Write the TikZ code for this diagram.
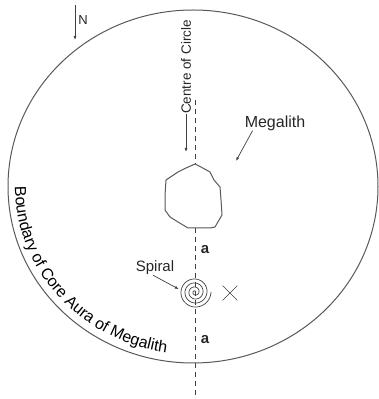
\documentclass[tikz,border=0pt]{standalone}
\usepackage{fontspec}
\setmainfont{Liberation Sans}
\usetikzlibrary{arrows.meta,decorations.text,shapes.misc}
\begin{document}
\begin{tikzpicture}[x=1pt,y=1pt,
  lbl/.style={font=\fontsize{15}{17}\selectfont,inner sep=0pt,text=black!85},
  pointer/.style={-{Latex[length=4pt,width=3pt]},line width=0.7pt,black!75},
  axisline/.style={dash pattern=on 5pt off 4pt,line width=1pt,black!75},
  outline/.style={line width=1pt,black!65}
]
\useasboundingbox (0,0) rectangle (379,399);
\draw[outline] (193,212.5) ellipse[x radius=185pt,y radius=176.5pt];
\path[decorate,decoration={text along path,text align=left,raise=1pt,
  text={|\fontsize{16}{18}\selectfont|Boundary of Core Aura of Megalith}}]
  (14,212.5) arc[start angle=180,end angle=268,x radius=179pt,y radius=169pt];
\node[lbl,font=\fontsize{13}{15}\selectfont] (north) at (83,379) {N};
\coordinate (ntop) at (75,394);
\coordinate (nbot) at (75,359);
\draw[pointer] (ntop) -- (nbot);
\draw[outline] (195,235) coordinate (mtop) -- (201,232) -- (210,227) -- (214,219) -- (220,212)
  -- (221,199) -- (222,184) -- (215,172) -- (210,171) -- (195,171) coordinate (mbot) -- (188,171)
  -- (178,177) -- (170,182) -- (165,189) -- (165,204) -- (166,219) -- (172,223) -- (178,227)
  -- (186,231) -- cycle;
\coordinate (dtop) at (195,299);
\coordinate (dbot) at (195,1);
\draw[axisline] (dtop) -- (mtop);
\draw[axisline] (mbot) -- (dbot);
\node[lbl,rotate=90,font=\fontsize{13.5}{15}\selectfont] (centre) at (186,332) {Centre of Circle};
\coordinate (cend) at (185,247);
\draw[pointer] (centre.west) -- (centre.west |- cend);
\node[lbl,font=\fontsize{16}{18}\selectfont] (megalith) at (275,276) {Megalith};
\coordinate (mpt) at (236,238);
\draw[pointer] ([xshift=8pt]megalith.south west) -- (mpt);
\node[minimum size=32pt,inner sep=0pt] (spiral) at (195,107) {};
\draw[line width=0.7pt,black!75] plot[domain=0:1440,samples=300,smooth]
  ({195+(\x/90)*cos(\x)},{107+(\x/90)*sin(\x)});
\node[lbl] (spirallbl) at (155,131) {Spiral};
\draw[pointer] ([xshift=-2pt]spirallbl.south) -- (spiral.170);
\node[draw,cross out,minimum size=14pt,inner sep=0pt,line width=0.7pt,black!75] (cross) at (230,106) {};
\node[lbl,font=\bfseries\fontsize{15}{17}\selectfont] (a1) at (205,149) {a};
\node[lbl,font=\bfseries\fontsize{15}{17}\selectfont] (a2) at (205,59) {a};
\end{tikzpicture}
\end{document}
